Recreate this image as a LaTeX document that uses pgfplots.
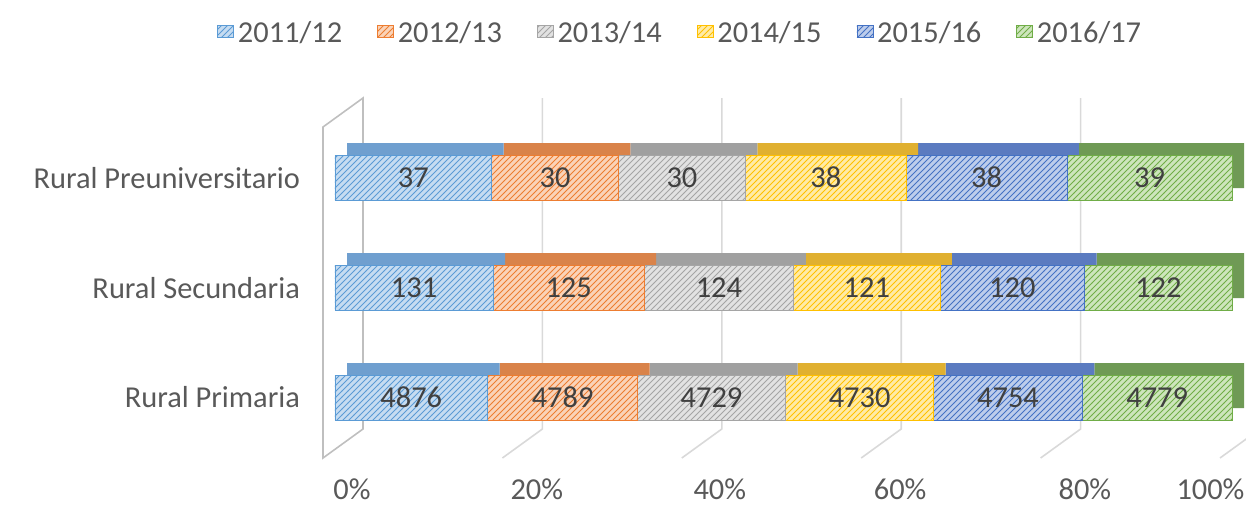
\documentclass[border=0pt]{standalone}
\usepackage{fontspec}
\setmainfont{Carlito}
\usepackage{pgfplots}
\pgfplotsset{compat=1.18}
\usepackage{pgfplotstable}
\usetikzlibrary{patterns}

% series colours: hatch / light face / top face
\definecolor{c1}{HTML}{5B9BD5}\definecolor{l1}{HTML}{C6DCF1}\definecolor{t1}{HTML}{6F9FCF}
\definecolor{c2}{HTML}{ED7D31}\definecolor{l2}{HTML}{FAD3B8}\definecolor{t2}{HTML}{D9834A}
\definecolor{c3}{HTML}{A5A5A5}\definecolor{l3}{HTML}{E2E2E2}\definecolor{t3}{HTML}{A0A0A0}
\definecolor{c4}{HTML}{FFC000}\definecolor{l4}{HTML}{FFEBA6}\definecolor{t4}{HTML}{E0B030}
\definecolor{c5}{HTML}{4472C4}\definecolor{l5}{HTML}{BDCDEB}\definecolor{t5}{HTML}{5B7BC0}
\definecolor{c6}{HTML}{70AD47}\definecolor{l6}{HTML}{CDE5BC}\definecolor{t6}{HTML}{6F9A55}
\definecolor{labc}{HTML}{595959}
\definecolor{datc}{HTML}{404040}
\definecolor{gridc}{HTML}{D9D9D9}
\definecolor{wallc}{HTML}{BFBFBF}

\pgfplotstableread{
y a b c d e f
0 4876 4789 4729 4730 4754 4779
1 131 125 124 121 120 122
2 37 30 30 38 38 39
}\rural

\newcommand\tot{(\thisrow{a}+\thisrow{b}+\thisrow{c}+\thisrow{d}+\thisrow{e}+\thisrow{f})}
\newcommand\chartfont{\fontsize{15.2}{18}\selectfont}

\pgfplotsset{
  frame/.style={
    width=448.5pt, height=165.5pt, scale only axis,
    xmin=0, xmax=100, ymin=-0.55, ymax=2.46, clip=false,
  },
  base/.style={frame, xbar stacked, bar width=22.5pt},
  front1/.style={fill=l1, draw=c1, line width=0.3pt, postaction={pattern=north east lines, pattern color=c1}},
  front2/.style={fill=l2, draw=c2, line width=0.3pt, postaction={pattern=north east lines, pattern color=c2}},
  front3/.style={fill=l3, draw=c3, line width=0.3pt, postaction={pattern=north east lines, pattern color=c3}},
  front4/.style={fill=l4, draw=c4, line width=0.3pt, postaction={pattern=north east lines, pattern color=c4}},
  front5/.style={fill=l5, draw=c5, line width=0.3pt, postaction={pattern=north east lines, pattern color=c5}},
  front6/.style={fill=l6, draw=c6, line width=0.3pt, postaction={pattern=north east lines, pattern color=c6}},
}

\begin{document}
\begin{tikzpicture}
% back wall and floor lines
\begin{axis}[frame, hide axis]
\draw[wallc, line width=0.8pt] ([xshift=-6pt]axis cs:0,-0.55) -- ([xshift=-6pt]axis cs:0,2.46)
  -- ([shift={(14pt,14.5pt)}]axis cs:0,2.46) -- ([shift={(14pt,14.5pt)}]axis cs:0,-0.55) -- cycle;
\pgfplotsinvokeforeach{20,40,60,80,100}{
  \draw[gridc, line width=0.8pt] ([shift={(14pt,14.5pt)}]axis cs:#1,2.46) -- ([shift={(14pt,14.5pt)}]axis cs:#1,-0.55)
    -- ([xshift=-6pt]axis cs:#1,-0.55);
}
\end{axis}

% top and side faces of the bars
\begin{axis}[base, hide axis, xshift=6pt, yshift=6pt]
\addplot[fill=t1, draw=none] table[x expr={100*\thisrow{a}/\tot}, y=y]{\rural};
\addplot[fill=t2, draw=none] table[x expr={100*\thisrow{b}/\tot}, y=y]{\rural};
\addplot[fill=t3, draw=none] table[x expr={100*\thisrow{c}/\tot}, y=y]{\rural};
\addplot[fill=t4, draw=none] table[x expr={100*\thisrow{d}/\tot}, y=y]{\rural};
\addplot[fill=t5, draw=none] table[x expr={100*\thisrow{e}/\tot}, y=y]{\rural};
\addplot[fill=t6, draw=none] table[x expr={100*\thisrow{f}/\tot}, y=y]{\rural};
\end{axis}

% front faces, tick labels, legend
\begin{axis}[base, name=front,
  font=\chartfont,
  axis line style={draw=none}, major tick length=0pt,
  ytick={0,1,2},
  yticklabels={Rural Primaria, Rural Secundaria, Rural Preuniversitario},
  yticklabel style={text=labc, xshift=-14pt},
  xtick={1.9,22.5,42.9,63.0,83.6,97.6},
  xticklabels={0\%,20\%,40\%,60\%,80\%,100\%},
  xticklabel style={text=labc, yshift=-7pt},
  xbar legend/.style={/pgfplots/legend image code/.code={\draw[##1] (0pt,-3.5pt) rectangle (7pt,3.5pt);}},
  legend columns=6,
  legend style={draw=none, fill=none, at={(0.386,1)}, anchor=center, yshift=47pt,
    text=labc, font=\chartfont,
    /tikz/every even column/.append style={column sep=15.5pt}},
]
\addplot[front1] table[x expr={100*\thisrow{a}/\tot}, y=y]{\rural};
\addplot[front2] table[x expr={100*\thisrow{b}/\tot}, y=y]{\rural};
\addplot[front3] table[x expr={100*\thisrow{c}/\tot}, y=y]{\rural};
\addplot[front4] table[x expr={100*\thisrow{d}/\tot}, y=y]{\rural};
\addplot[front5] table[x expr={100*\thisrow{e}/\tot}, y=y]{\rural};
\addplot[front6] table[x expr={100*\thisrow{f}/\tot}, y=y]{\rural};
\legend{2011/12,2012/13,2013/14,2014/15,2015/16,2016/17}
\end{axis}

% value labels in the middle of each segment
\begin{axis}[frame, hide axis,
  font=\chartfont,
  point meta=explicit symbolic,
  nodes near coords,
  every node near coord/.append style={anchor=center, text=datc},
]
\addplot[draw=none, mark=none] table[x expr={100*(\thisrow{a}/2)/\tot}, y=y, meta=a]{\rural};
\addplot[draw=none, mark=none] table[x expr={100*(\thisrow{a}+\thisrow{b}/2)/\tot}, y=y, meta=b]{\rural};
\addplot[draw=none, mark=none] table[x expr={100*(\thisrow{a}+\thisrow{b}+\thisrow{c}/2)/\tot}, y=y, meta=c]{\rural};
\addplot[draw=none, mark=none] table[x expr={100*(\thisrow{a}+\thisrow{b}+\thisrow{c}+\thisrow{d}/2)/\tot}, y=y, meta=d]{\rural};
\addplot[draw=none, mark=none] table[x expr={100*(\thisrow{a}+\thisrow{b}+\thisrow{c}+\thisrow{d}+\thisrow{e}/2)/\tot}, y=y, meta=e]{\rural};
\addplot[draw=none, mark=none] table[x expr={100*(\thisrow{a}+\thisrow{b}+\thisrow{c}+\thisrow{d}+\thisrow{e}+\thisrow{f}/2)/\tot}, y=y, meta=f]{\rural};
\end{axis}

\pgfresetboundingbox
\path ([shift={(-167.5pt,-23.5pt)}]front.south west) rectangle ([shift={(455.5pt,229pt)}]front.south west);
\end{tikzpicture}
\end{document}
